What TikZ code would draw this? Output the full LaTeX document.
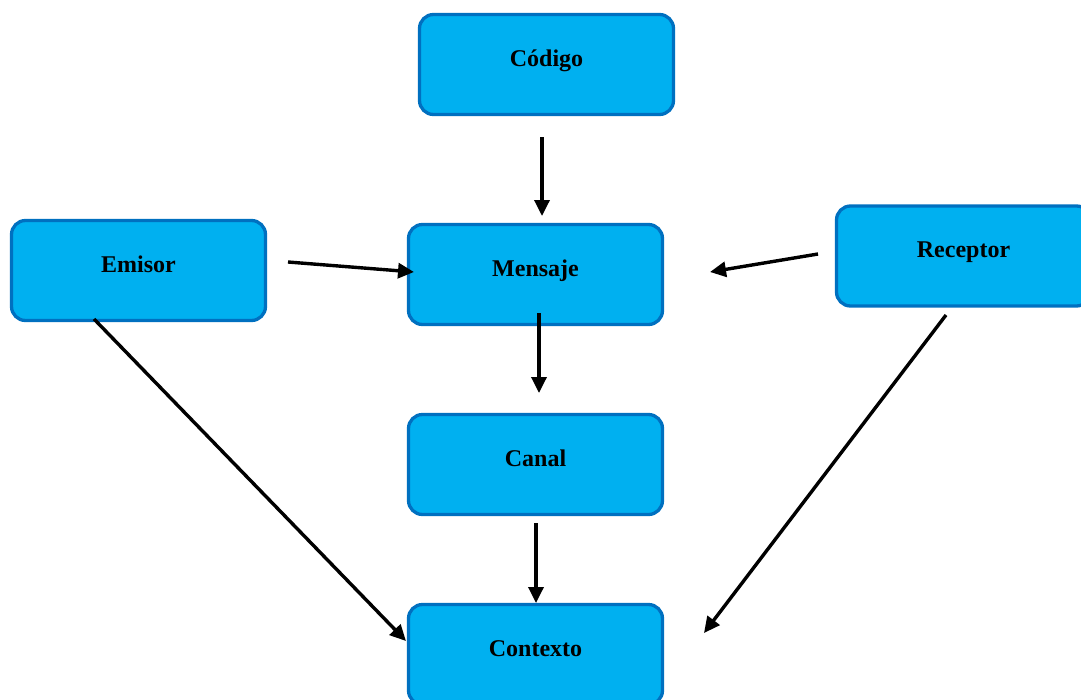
\documentclass[tikz,border=0pt]{standalone}
\usepackage{fontspec}
\setmainfont{Liberation Serif}
\usetikzlibrary{arrows.meta}
\definecolor{boxfill}{HTML}{00B0F0}
\definecolor{boxline}{HTML}{0070C0}
\begin{document}
\begin{tikzpicture}[x=1pt,y=-1pt,
  box/.style={draw=boxline, fill=boxfill, line width=3.3pt, rounded corners=14pt,
    minimum width=254pt, minimum height=100pt, inner sep=0pt,
    text height=3pt, text depth=0pt,
    font=\fontsize{24}{28}\selectfont\bfseries},
  arr/.style={line width=3.4pt, -{Triangle[length=16pt,width=15pt]}}]
\clip (0,0) rectangle (1081,699);
\useasboundingbox (0,0) rectangle (1081,699);
\node[box] (cod) at (546.5,64.5) {Código};
\node[box] (emi) at (138.5,270.5) {Emisor};
\node[box] (men) at (535.5,274.5) {Mensaje};
\node[box] (rec) at (963.5,256) {Receptor};
\node[box] (can) at (535.5,464.5) {Canal};
\node[box] (con) at (535.5,654.5) {Contexto};
% arrow end points
\coordinate (c1s) at (542,137); \coordinate (c1e) at (542,216);
\coordinate (e1s) at (288,262); \coordinate (e1e) at (414,272);
\coordinate (r1s) at (818,254); \coordinate (r1e) at (710,272);
\coordinate (m1s) at (539,313); \coordinate (m1e) at (539,393);
\coordinate (k1s) at (536,523); \coordinate (k1e) at (536,603);
\coordinate (e2s) at (94,319);  \coordinate (e2e) at (406,641);
\coordinate (r2s) at (946,315); \coordinate (r2e) at (704,633);
\draw[arr] (c1s) -- (c1e);
\draw[arr] (e1s) -- (e1e);
\draw[arr] (r1s) -- (r1e);
\draw[arr] (m1s) -- (m1e);
\draw[arr] (k1s) -- (k1e);
\draw[arr] (e2s) -- (e2e);
\draw[arr] (r2s) -- (r2e);
\end{tikzpicture}
\end{document}
